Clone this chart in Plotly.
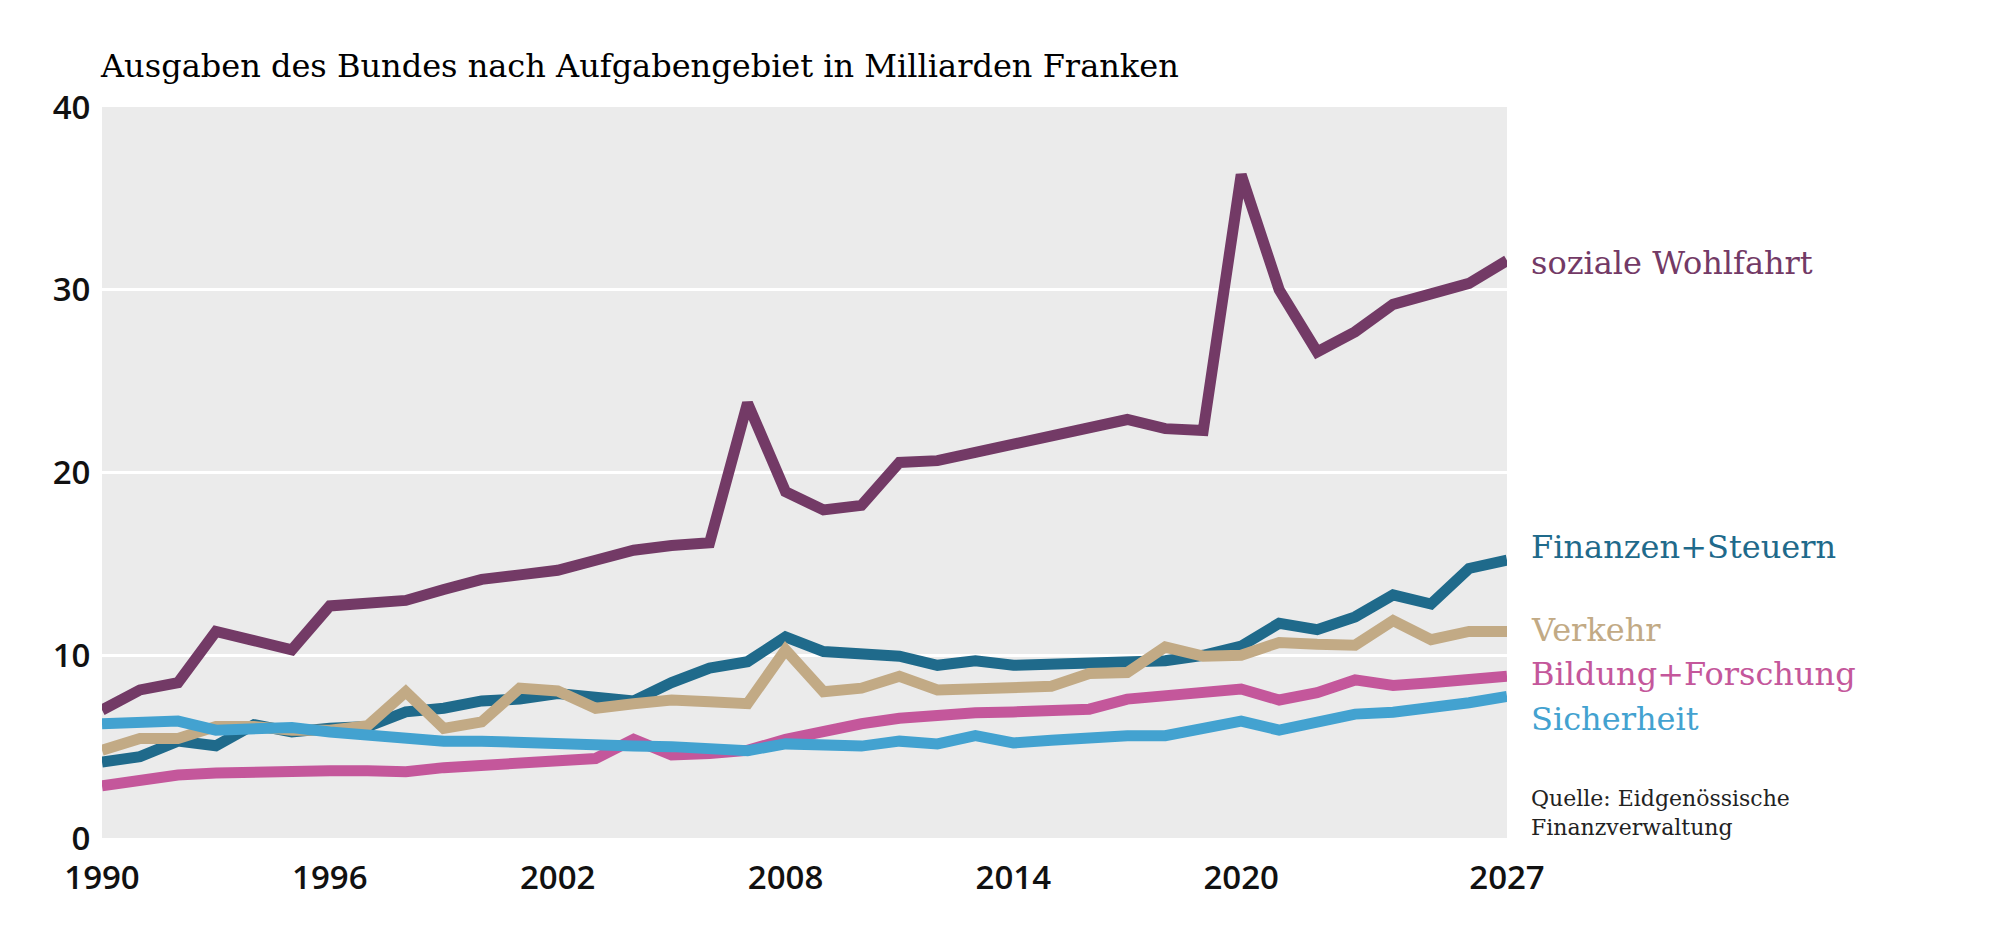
import plotly.graph_objects as go

years = list(range(1990, 2028))

soziale_wohlfahrt = [7.0, 8.1, 8.5, 11.3, 10.8, 10.3, 12.7, 12.85, 13.0, 13.6, 14.15, 14.4, 14.65,
                     15.2, 15.75, 16.0, 16.15, 23.8, 18.95, 17.95, 18.2, 20.55, 20.65, 21.1, 21.55,
                     22.05, 22.5, 22.9, 22.4, 22.3, 36.3, 30.0, 26.6, 27.7, 29.2, 29.8, 30.35, 31.6]

finanzen_steuern = [4.15, 4.45, 5.3, 5.05, 6.2, 5.8, 6.0, 6.1, 6.9, 7.1, 7.5, 7.6, 7.9,
                    7.7, 7.5, 8.5, 9.3, 9.65, 11.0, 10.2, 10.05, 9.95, 9.45, 9.7, 9.45,
                    9.5, 9.65, 9.75, 9.7, 10.0, 10.5, 11.75, 11.4, 12.1, 13.3, 12.8, 14.75, 15.2]

verkehr = [4.8, 5.45, 5.45, 6.1, 6.1, 5.9, 5.9, 6.15, 8.0, 6.0, 6.35, 8.2, 8.05,
           7.1, 7.35, 7.55, 7.45, 7.35, 10.3, 8.0, 8.2, 8.85, 8.1, 8.2, 8.3,
           8.3, 9.0, 9.05, 10.45, 9.95, 10.0, 10.7, 10.6, 10.55, 11.9, 10.85, 11.3, 11.3]

bildung_forschung = [2.85, 3.15, 3.45, 3.55, 3.63, 3.7, 3.68, 3.68, 3.63, 3.85, 3.95, 4.05, 4.3,
                     4.35, 5.4, 4.55, 4.63, 4.8, 5.4, 5.9, 6.25, 6.55, 6.72, 6.85, 6.9,
                     6.95, 7.05, 7.6, 7.8, 8.0, 8.15, 7.55, 7.95, 8.65, 8.35, 8.5, 8.68, 8.85]

sicherheit = [6.25, 6.3, 6.4, 5.9, 6.0, 6.05, 5.8, 5.63, 5.55, 5.3, 5.3, 5.2, 5.1,
              5.08, 5.03, 5.0, 4.88, 4.78, 5.15, 5.08, 5.03, 5.3, 5.15, 5.6, 5.2,
              5.35, 5.5, 5.6, 5.6, 6.0, 6.4, 5.9, 6.35, 6.78, 6.88, 7.1, 7.4, 7.75]

x_ticks = [1990, 1996, 2002, 2008, 2014, 2020, 2027]
y_ticks = [0, 10, 20, 30, 40]

# drawing order: pink at the bottom, purple on top
series = [
    ("Bildung+Forschung", bildung_forschung, "#c4579b"),
    ("Finanzen+Steuern", finanzen_steuern, "#1f6a8b"),
    ("Verkehr", verkehr, "#c2aa85"),
    ("Sicherheit", sicherheit, "#43a2d0"),
    ("soziale Wohlfahrt", soziale_wohlfahrt, "#733a66"),
]

# where the end labels sit (value axis), nudged apart so they don't overlap
label_y = {
    "soziale Wohlfahrt": 31.45,
    "Finanzen+Steuern": 15.9,
    "Verkehr": 11.4,
    "Bildung+Forschung": 9.0,
    "Sicherheit": 6.5,
}

serif = "DejaVu Serif"
sans = "Open Sans"

fig = go.Figure()

for name, values, color in series:
    fig.add_trace(go.Scatter(
        x=years,
        y=values,
        mode="lines",
        name=name,
        line=dict(color=color, width=11, shape="linear"),
        hoverinfo="x+y+name",
    ))
    fig.add_annotation(
        x=1, xref="paper", xanchor="left", xshift=22,
        y=label_y[name], yref="y", yanchor="middle",
        text=name, showarrow=False,
        font=dict(family=serif, size=32, color=color),
    )

fig.add_annotation(
    x=0, xref="paper", xanchor="left", xshift=-4,
    y=1.056, yref="paper", yanchor="middle",
    text="Ausgaben des Bundes nach Aufgabengebiet in Milliarden Franken",
    showarrow=False,
    font=dict(family=serif, size=32, color="#000000"),
)

fig.add_annotation(
    x=1, xref="paper", xanchor="left", xshift=22,
    y=0, yref="paper", yanchor="bottom", yshift=-4,
    text="Quelle: Eidgenössische<br>Finanzverwaltung",
    align="left", showarrow=False,
    font=dict(family=serif, size=22, color="#222222"),
)

# the page puts the figure 8px in from the top-left corner
fig.update_layout(
    width=2000,
    height=937,
    margin=dict(l=94, r=501, t=99, b=107),
    paper_bgcolor="white",
    plot_bgcolor="#ebebeb",
    showlegend=False,
)

fig.update_xaxes(
    range=[1990, 2027],
    tickvals=x_ticks,
    ticktext=[str(t) for t in x_ticks],
    showgrid=False,
    zeroline=False,
    showline=False,
    ticks="outside",
    ticklen=10,
    tickcolor="rgba(0,0,0,0)",
    tickfont=dict(family=sans, size=33, color="#111111", weight=600),
)

fig.update_yaxes(
    range=[0, 40],
    tickvals=y_ticks,
    showgrid=True,
    gridcolor="white",
    gridwidth=3,
    zeroline=False,
    showline=False,
    ticks="outside",
    ticklen=4,
    tickcolor="rgba(0,0,0,0)",
    tickfont=dict(family=sans, size=33, color="#111111", weight=600),
)

fig.write_html("out.html")
